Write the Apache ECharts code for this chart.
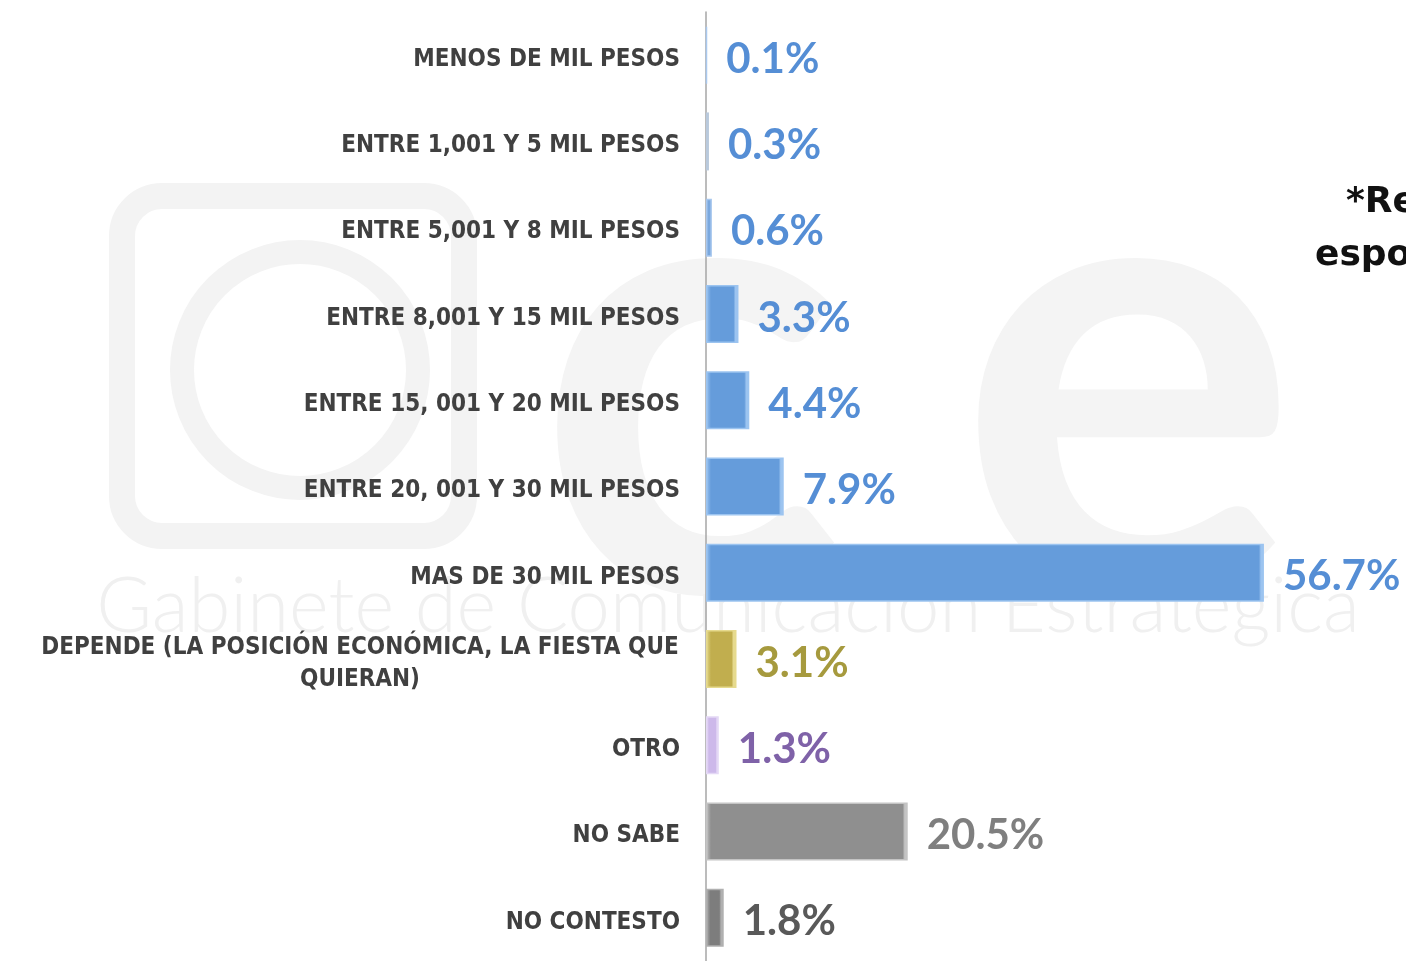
<!DOCTYPE html>
<html>
<head>
<meta charset="utf-8">
<script src="https://cdn.jsdelivr.net/npm/echarts@6/dist/echarts.min.js"></script>
<style>
  html, body { margin: 0; padding: 0; background: #ffffff; }
  #chart { width: 1406px; height: 961px; }
</style>
</head>
<body>
<div id="chart"></div>
<script>
const categories = [
  'MENOS DE MIL PESOS',
  'ENTRE 1,001 Y 5 MIL PESOS',
  'ENTRE 5,001 Y 8 MIL PESOS',
  'ENTRE 8,001 Y 15 MIL PESOS',
  'ENTRE 15, 001 Y 20 MIL PESOS',
  'ENTRE 20, 001 Y 30 MIL PESOS',
  'MAS DE 30 MIL PESOS',
  'DEPENDE (LA POSICIÓN ECONÓMICA, LA FIESTA QUE\nQUIERAN)',
  'OTRO',
  'NO SABE',
  'NO CONTESTO'
];
const values = [0.1, 0.3, 0.6, 3.3, 4.4, 7.9, 56.7, 3.1, 1.3, 20.5, 1.8];

// colour per row: bar fill, bevel edge, label
const fills   = ['#6a9fdc', '#9fb3cc', '#7aa8de', '#659cdb', '#659cdb', '#659cdb', '#659cdb', '#c1ae4e', '#cdb9ea', '#8f8f8f', '#7d7d7d'];
const edges   = ['#a9c8ee', '#b9c9dc', '#a9c8ee', '#9cc4f0', '#9cc4f0', '#9cc4f0', '#9cc4f0', '#e6da8e', '#e4d8f5', '#c4c4c4', '#b0b0b0'];
const labelColors = ['#558ed5', '#558ed5', '#558ed5', '#558ed5', '#558ed5', '#558ed5', '#558ed5', '#a69a3e', '#7f62a8', '#7f7f7f', '#595959'];

const PX_PER_UNIT = 590.4 / 60;

function bevel(v, i) {
  const w = v * PX_PER_UNIT;
  if (w < 10) return fills[i];
  const f = Math.min(0.25, 5 / w);
  return {
    type: 'linear', x: 0, y: 0, x2: 1, y2: 0,
    colorStops: [
      { offset: 0, color: edges[i] },
      { offset: f, color: fills[i] },
      { offset: 1 - f, color: fills[i] },
      { offset: 1 - f * 0.6, color: edges[i] },
      { offset: 1, color: edges[i] }
    ]
  };
}

const chart = echarts.init(document.getElementById('chart'));

const option = {
  animation: false,
  backgroundColor: '#ffffff',
  graphic: [
    // faint logo watermark
    {
      type: 'rect', z: -10, silent: true,
      shape: { x: 122, y: 196, width: 342, height: 340, r: 40 },
      style: { fill: 'none', stroke: '#f3f3f3', lineWidth: 26 }
    },
    {
      type: 'circle', z: -10, silent: true,
      shape: { cx: 300, cy: 370, r: 118 },
      style: { fill: 'none', stroke: '#f3f3f3', lineWidth: 24 }
    },
    {
      type: 'text', z: -10, silent: true,
      style: { text: 'c', x: 690, y: 385, fill: '#f4f4f4', font: 'bold 640px Lato', align: 'center', verticalAlign: 'middle' }
    },
    {
      type: 'text', z: -10, silent: true,
      style: { text: 'e', x: 1128, y: 385, fill: '#f4f4f4', font: 'bold 640px Lato', align: 'center', verticalAlign: 'middle' }
    },
    {
      type: 'text', z: -10, silent: true,
      style: { text: 'Gabinete de Comunicación Estratégica', x: 728, y: 607, fill: '#f0f0f0', font: '300 76px Lato', align: 'center', verticalAlign: 'middle' }
    },
    // note cut by the right edge
    {
      type: 'text', silent: true,
      style: { text: '*Respuesta', x: 1346, y: 203, fill: '#111111', font: 'bold 36px "DejaVu Sans"', verticalAlign: 'middle' }
    },
    {
      type: 'text', silent: true,
      style: { text: 'espontánea', x: 1315, y: 256, fill: '#111111', font: 'bold 36px "DejaVu Sans"', verticalAlign: 'middle' }
    }
  ],
  grid: { left: 706, top: 12, width: 590.4, height: 952 },
  xAxis: {
    type: 'value', min: 0, max: 60, show: false
  },
  yAxis: {
    type: 'category',
    inverse: true,
    data: categories,
    axisLine: { lineStyle: { color: '#a6a6a6', width: 1.5 } },
    axisTick: { length: 7, lineStyle: { color: '#a6a6a6', width: 1.5 } },
    axisLabel: {
      margin: 26,
      padding: [9, 0, 0, 0],
      color: '#404040',
      fontFamily: 'DejaVu Sans Condensed',
      fontWeight: 'bold',
      fontSize: 24,
      lineHeight: 32,
      formatter: function (v) {
        if (v.indexOf('\n') < 0) return v;
        return v.split('\n').map(function (s) { return '{w|' + s + '}'; }).join('\n');
      },
      rich: {
        w: {
          width: 640, align: 'center', color: '#404040',
          fontFamily: 'DejaVu Sans Condensed', fontWeight: 'bold', fontSize: 24, lineHeight: 32
        }
      }
    }
  },
  series: [{
    type: 'bar',
    barWidth: 58,
    data: values.map(function (v, i) {
      return {
        value: v,
        itemStyle: { color: bevel(v, i), borderColor: edges[i], borderWidth: 1.5 },
        label: { color: labelColors[i] }
      };
    }),
    label: {
      show: true,
      position: 'right',
      distance: 19,
      offset: [0, 4],
      fontFamily: 'Lato',
      fontWeight: 'bold',
      fontSize: 42,
      formatter: function (p) { return p.value.toFixed(1) + '%'; }
    }
  }]
};

chart.setOption(option);
</script>
</body>
</html>
